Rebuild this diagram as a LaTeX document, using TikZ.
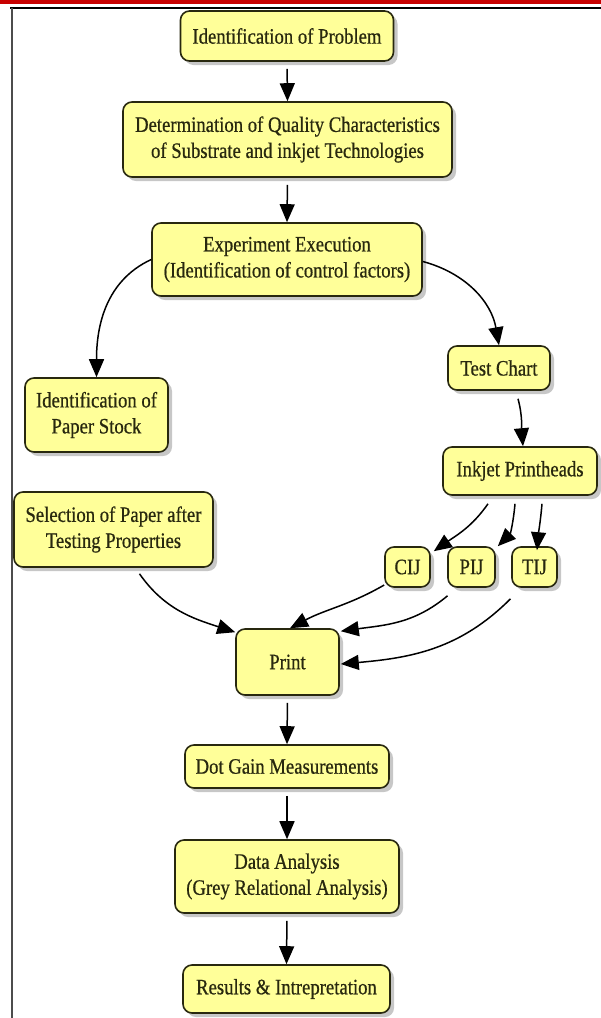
\documentclass[tikz,border=0pt]{standalone}
\usepackage{fontspec}
\setmainfont{Liberation Serif}[FakeStretch=0.85,FakeBold=0.6]
\usetikzlibrary{arrows.meta,shadows}
\definecolor{boxfill}{RGB}{255,255,153}
\definecolor{boxline}{RGB}{40,40,15}
\definecolor{txt}{RGB}{40,40,15}
\definecolor{topred}{RGB}{200,0,0}
\begin{document}
\begin{tikzpicture}[x=1pt,y=-1pt,
  box/.style={draw=boxline, line width=1.6pt, fill=boxfill, rounded corners=9pt,
    align=center, inner sep=0pt, text=txt, font=\fontsize{22}{26}\selectfont,
    drop shadow={shadow xshift=4pt, shadow yshift=-4pt, fill=black, opacity=0.22}},
  arr/.style={line width=1.5pt, -{Triangle[length=18pt,width=15pt]}},
  varr/.style={arr, shorten <=7pt}]
\useasboundingbox (0,0) rectangle (601,1018);
\fill[topred] (0,0) rectangle (601,3.5);
\draw[line width=1.2pt] (10,8) -- (601,8);
\draw[gray!60!black, line width=1.2pt] (12,8) -- (12,1018);

\node[box, minimum width=213pt, minimum height=50pt] (n1) at (287,36) {Identification of Problem};
\node[box, minimum width=329pt, minimum height=75pt] (n2) at (287.5,139.5) {Determination of Quality Characteristics\\of Substrate and inkjet Technologies};
\node[box, minimum width=270pt, minimum height=73pt] (n3) at (287,259.5) {Experiment Execution\\(Identification of control factors)};
\node[box, minimum width=143pt, minimum height=74pt] (n4) at (96.5,415) {Identification of\\Paper Stock};
\node[box, minimum width=199pt, minimum height=75pt] (n5) at (113.5,529.5) {Selection of Paper after\\Testing Properties};
\node[box, minimum width=102pt, minimum height=44pt] (n6) at (499,368) {Test Chart};
\node[box, minimum width=154pt, minimum height=48pt] (n7) at (520,471) {Inkjet Printheads};
\node[box, minimum width=45pt, minimum height=40pt] (cij) at (407.5,567) {CIJ};
\node[box, minimum width=47pt, minimum height=40pt] (pij) at (471.5,567) {PIJ};
\node[box, minimum width=45pt, minimum height=40pt] (tij) at (534.5,567) {TIJ};
\node[box, minimum width=103pt, minimum height=66pt] (pr) at (287.5,662) {Print};
\node[box, minimum width=204pt, minimum height=43pt] (dg) at (287,766.5) {Dot Gain Measurements};
\node[box, minimum width=224pt, minimum height=73pt] (da) at (287,876.5) {Data Analysis\\(Grey Relational Analysis)};
\node[box, minimum width=207pt, minimum height=48pt] (rs) at (286.5,989) {Results \& Intrepretation};

\draw[varr] (n1.south) -- (n2.north);
\draw[varr] (n2.south) -- (n3.north);
\draw[arr] (n3.west) to[out=205, in=90] (n4.north);
\draw[arr] ([yshift=-2pt]n3.east) to[out=-15, in=100] (n6.north);
\draw[arr] ([xshift=19pt,yshift=-8pt]n6.south) to[out=-75, in=95] ([xshift=3pt]n7.north);
\draw[arr] ([xshift=-32pt,yshift=-8pt]n7.south) to[out=-125, in=35] ([xshift=3pt,yshift=-5pt]cij.north east);
\draw[arr] ([xshift=-5pt,yshift=-8pt]n7.south) to[out=-95, in=45] ([xshift=2pt]pij.north east);
\draw[arr] ([xshift=22pt,yshift=-8pt]n7.south) to[out=-95, in=85] ([xshift=2.5pt,yshift=-4pt]tij.north);
\draw[arr] ([xshift=26pt,yshift=-6pt]n5.south) to[out=-55, in=162] ([yshift=-4pt]pr.north west);
\draw[arr] ([yshift=-18pt]cij.west) to[out=-150, in=28] ([xshift=2.5pt]pr.north);
\draw[arr] ([xshift=-24pt,yshift=-8pt]pij.south) to[out=-140, in=8] ([xshift=1pt,yshift=-3pt]pr.north east);
\draw[arr] ([xshift=-24pt,yshift=-11pt]tij.south) to[out=-135, in=5] ([xshift=1pt,yshift=-2pt]pr.east);
\draw[varr] (pr.south) -- (dg.north);
\draw[varr] (dg.south) -- (da.north);
\draw[varr] (da.south) -- (rs.north);
\end{tikzpicture}
\end{document}
